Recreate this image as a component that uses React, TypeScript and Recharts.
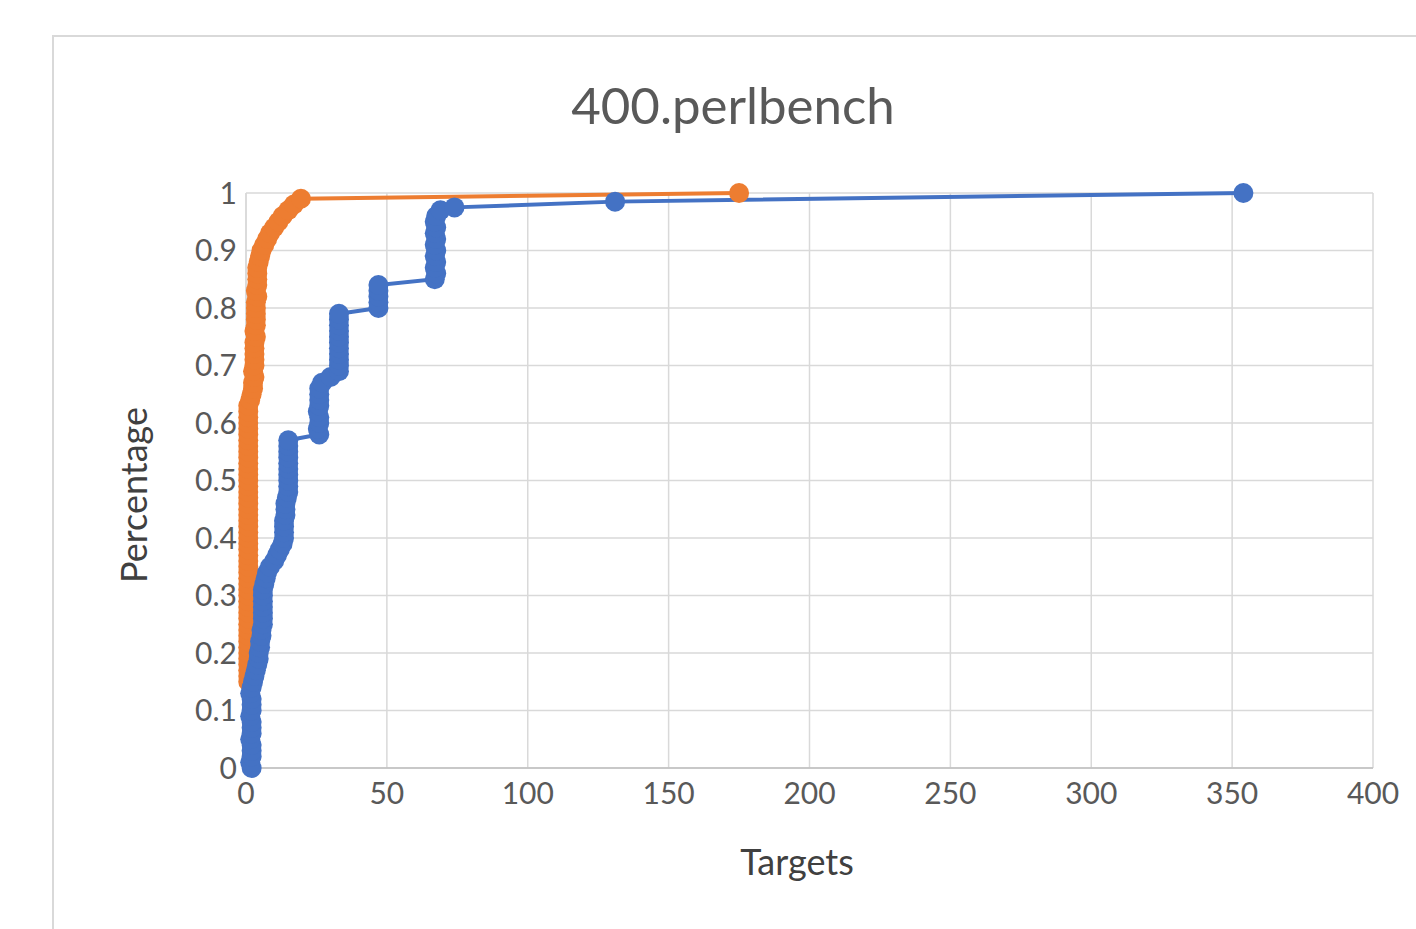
import React from 'react';
import { LineChart, Line, XAxis, YAxis, CartesianGrid } from 'recharts';

// Blue series: [targets, cumulative share]
const bluePoints: [number, number][] = [
  [2, 0], [1.5, 0.01], [2, 0.02], [2, 0.03], [2, 0.04], [1.5, 0.05], [2, 0.06], [2, 0.07], [2, 0.08], [1.5, 0.09],
  [2, 0.1], [2, 0.11], [2, 0.12], [1.5, 0.13], [2, 0.14], [2.5, 0.15], [3, 0.16], [3.5, 0.17], [4, 0.18], [4.5, 0.19],
  [4.5, 0.2], [5, 0.21], [5, 0.22], [5.5, 0.23], [5.5, 0.24], [6, 0.25], [6, 0.26], [6, 0.27], [6, 0.28], [6, 0.29],
  [6, 0.3], [6, 0.31], [6.5, 0.32], [7, 0.33], [7.5, 0.34], [8.5, 0.35], [10, 0.36], [11, 0.37], [12, 0.38], [13, 0.39],
  [13.5, 0.4], [13.5, 0.41], [13.5, 0.42], [13.5, 0.43], [14, 0.44], [14, 0.45], [14, 0.46], [14.5, 0.47], [15, 0.48], [15, 0.49],
  [15, 0.5], [15, 0.51], [15, 0.52], [15, 0.53], [15, 0.54], [15, 0.55], [15, 0.56], [15, 0.57],
  [26, 0.58], [25.5, 0.59], [26, 0.6], [26, 0.61], [25.5, 0.62], [26, 0.63], [26, 0.64], [26, 0.65], [26, 0.66], [27, 0.67], [30, 0.68],
  [33, 0.69], [33, 0.7], [33, 0.71], [33, 0.72], [33, 0.73], [33, 0.74], [33, 0.75], [33, 0.76], [33, 0.77], [33, 0.78], [33, 0.79],
  [47, 0.8], [47, 0.81], [47, 0.82], [47, 0.83], [47, 0.84],
  [67, 0.85], [67.5, 0.86], [67, 0.87], [67.5, 0.88], [67, 0.89], [67.5, 0.9], [67, 0.91], [67.5, 0.92], [67, 0.93], [67.5, 0.94], [67, 0.95], [67.5, 0.96],
  [69, 0.97], [74, 0.975], [131, 0.985], [354, 1],
];

// Orange series
const orangePoints: [number, number][] = [
  [0.8, 0.15], [0.8, 0.16], [0.8, 0.17], [0.8, 0.18], [0.8, 0.19], [0.8, 0.2], [0.8, 0.21], [0.8, 0.22], [0.8, 0.23], [0.8, 0.24],
  [0.8, 0.25], [0.8, 0.26], [0.8, 0.27], [0.8, 0.28], [0.8, 0.29], [0.8, 0.3], [0.8, 0.31], [0.8, 0.32], [0.8, 0.33], [0.8, 0.34],
  [0.8, 0.35], [0.8, 0.36], [0.8, 0.37], [0.8, 0.38], [0.8, 0.39], [0.8, 0.4], [0.8, 0.41], [0.8, 0.42], [0.8, 0.43], [0.8, 0.44],
  [0.8, 0.45], [0.8, 0.46], [0.8, 0.47], [0.8, 0.48], [0.8, 0.49], [0.8, 0.5], [0.8, 0.51], [0.8, 0.52], [0.8, 0.53], [0.8, 0.54],
  [0.8, 0.55], [0.8, 0.56], [0.8, 0.57], [0.8, 0.58], [0.8, 0.59], [0.8, 0.6], [0.8, 0.61], [0.8, 0.62], [0.8, 0.63],
  [1.5, 0.64], [2, 0.65], [2.5, 0.66], [2.5, 0.67], [3, 0.68], [2.5, 0.69], [3, 0.7], [3, 0.71], [3, 0.72], [3, 0.73],
  [3, 0.74], [3.5, 0.75], [3, 0.76], [3.5, 0.77], [3.5, 0.78], [3.5, 0.79], [3.5, 0.8], [3.5, 0.81], [4, 0.82], [3.5, 0.83],
  [4, 0.84], [4, 0.85], [4, 0.86], [4, 0.87], [4.5, 0.88], [5, 0.89], [5.5, 0.9], [6.5, 0.91], [7.5, 0.92], [8.5, 0.93],
  [10, 0.94], [11.5, 0.95], [13, 0.96], [15, 0.97], [17, 0.98], [19.5, 0.99], [175, 1],
];

const xTicks = [0, 50, 100, 150, 200, 250, 300, 350, 400];
const yTicks = [0, 0.1, 0.2, 0.3, 0.4, 0.5, 0.6, 0.7, 0.8, 0.9, 1];

const blueData = bluePoints.map(([x, y]) => ({ x, y }));
const orangeData = orangePoints.map(([x, y]) => ({ x, y }));

const BLUE = '#4472C4';
const ORANGE = '#ED7D31';
const FONT = 'Lato, "Open Sans", sans-serif';

const App: React.FC = () => {
  return (
    <div style={{ position: 'absolute', left: 0, top: 0, width: 1416, height: 929, background: '#fff', overflow: 'hidden', fontFamily: FONT }}>
      <div style={{ position: 'absolute', left: 52, top: 35, width: 1400, height: 920, borderLeft: '2px solid #d9d9d9', borderTop: '2px solid #d9d9d9' }} />
      <div style={{ position: 'absolute', left: 0, top: 74, width: 1466, textAlign: 'center', fontSize: 51, color: '#595959' }}>
        400.perlbench
      </div>
      <div style={{ position: 'absolute', left: 597, top: 839, width: 400, textAlign: 'center', fontSize: 36, color: '#404040' }}>
        Targets
      </div>
      <div style={{ position: 'absolute', left: 133, top: 495, width: 0, height: 0 }}>
        <div style={{ position: 'absolute', left: -150, top: -22, width: 300, textAlign: 'center', fontSize: 36, color: '#404040', transform: 'rotate(-90deg)' }}>
          Percentage
        </div>
      </div>
      <div style={{ position: 'absolute', left: 0, top: 0 }}>
        <LineChart width={1416} height={929} margin={{ top: 193, right: 43, left: 176, bottom: 111 }}>
          <CartesianGrid stroke="#d9d9d9" strokeWidth={1.5} />
          <XAxis
            type="number"
            dataKey="x"
            domain={[0, 400]}
            ticks={xTicks}
            height={50}
            tickLine={false}
            axisLine={{ stroke: '#bfbfbf', strokeWidth: 1.5 }}
            tickMargin={9}
            tick={{ fill: '#595959', fontSize: 30, fontFamily: FONT }}
          />
          <YAxis
            type="number"
            dataKey="y"
            domain={[0, 1]}
            ticks={yTicks}
            width={70}
            tickLine={false}
            axisLine={{ stroke: '#d9d9d9', strokeWidth: 1.5 }}
            tickMargin={3}
            tickFormatter={(v: number) => String(v)}
            tick={{ fill: '#595959', fontSize: 30, fontFamily: FONT }}
          />
          <Line
            data={orangeData}
            dataKey="y"
            type="linear"
            stroke={ORANGE}
            strokeWidth={4}
            dot={{ r: 10, fill: ORANGE, stroke: 'none' }}
            isAnimationActive={false}
          />
          <Line
            data={blueData}
            dataKey="y"
            type="linear"
            stroke={BLUE}
            strokeWidth={4}
            dot={{ r: 10, fill: BLUE, stroke: 'none' }}
            isAnimationActive={false}
          />
        </LineChart>
      </div>
    </div>
  );
};

export default App;
